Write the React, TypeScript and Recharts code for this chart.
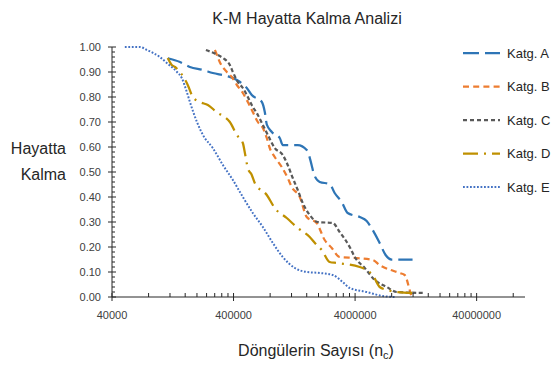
import React from 'react';
import { LineChart, Line, XAxis, YAxis } from 'recharts';

// Kaplan-Meier curves: [cycles, survival]
const katgA: [number, number][] = [
  [115000, 0.955], [145000, 0.94], [175000, 0.92], [224000, 0.908], [270000, 0.896],
  [352000, 0.884], [426000, 0.868], [514000, 0.836], [565000, 0.808], [684000, 0.78],
  [723000, 0.74], [751000, 0.69], [826000, 0.66], [960000, 0.636], [1017000, 0.608],
  [1350000, 0.608], [1600000, 0.588], [1780000, 0.516], [1820000, 0.496], [2047000, 0.46],
  [2472000, 0.452], [2717000, 0.416], [3104000, 0.38], [3476000, 0.336], [4365000, 0.32],
  [4980000, 0.304], [5584000, 0.268], [6371000, 0.216], [7133000, 0.168], [8000000, 0.15],
  [11880000, 0.15],
];
const katgB: [number, number][] = [
  [281000, 0.988], [292000, 0.968], [308000, 0.94], [352000, 0.9], [387000, 0.88],
  [426000, 0.848], [477000, 0.816], [524000, 0.78], [576000, 0.74], [634000, 0.7],
  [697000, 0.676], [751000, 0.636], [794000, 0.596], [873000, 0.56], [997000, 0.52],
  [1116000, 0.476], [1204000, 0.44], [1403000, 0.4], [1600000, 0.32], [1932000, 0.296],
  [2249000, 0.228], [2571000, 0.196], [2986000, 0.16], [4120000, 0.156], [5584000, 0.148],
  [6371000, 0.128], [9290000, 0.096], [10230000, 0.088], [11250000, 0.028], [11670000, 0],
];
const katgC: [number, number][] = [
  [237000, 0.988], [297000, 0.968], [327000, 0.956], [373000, 0.928], [395000, 0.9],
  [434000, 0.86], [477000, 0.836], [524000, 0.8], [565000, 0.768], [634000, 0.728],
  [697000, 0.688], [766000, 0.648], [873000, 0.596], [1017000, 0.568], [1116000, 0.528],
  [1228000, 0.476], [1350000, 0.428], [1484000, 0.376], [1694000, 0.328], [1972000, 0.3],
  [2618000, 0.296], [2986000, 0.26], [3612000, 0.2], [3972000, 0.16], [4800000, 0.116],
  [5800000, 0.068], [7280000, 0.04], [8790000, 0.02], [14930000, 0.016],
];
const katgD: [number, number][] = [
  [115000, 0.956], [124000, 0.928], [132000, 0.92], [168000, 0.848], [185000, 0.8],
  [211000, 0.78], [246000, 0.768], [297000, 0.736], [339000, 0.72], [373000, 0.7],
  [426000, 0.648], [477000, 0.616], [496000, 0.576], [524000, 0.516], [565000, 0.488],
  [598000, 0.456], [751000, 0.408], [873000, 0.356], [1096000, 0.316], [1350000, 0.276],
  [1694000, 0.24], [1932000, 0.208], [2128000, 0.188], [2472000, 0.14], [2825000, 0.136],
  [4365000, 0.12], [4980000, 0.108], [5584000, 0.088], [6371000, 0.04], [7410000, 0.028],
  [8790000, 0.02], [12360000, 0.016],
];
const katgE: [number, number][] = [
  [51000, 1.0], [68000, 1.0], [77600, 0.988], [99000, 0.96], [113000, 0.936],
  [137000, 0.9], [150000, 0.876], [165000, 0.82], [175000, 0.78], [200000, 0.7],
  [224000, 0.648], [270000, 0.596], [327000, 0.528], [395000, 0.468], [477000, 0.4],
  [576000, 0.336], [697000, 0.28], [842000, 0.216], [1017000, 0.16], [1277000, 0.116],
  [1600000, 0.1], [2047000, 0.096], [2618000, 0.088], [3164000, 0.06], [3612000, 0.036],
  [4980000, 0.02], [6745000, 0.004], [8460000, 0],
];

const seriesNames = ['Katg. A', 'Katg. B', 'Katg. C', 'Katg. D', 'Katg. E'];
const xMajorTicks = [40000, 400000, 4000000, 40000000];
const yMajorTicks = [0, 0.1, 0.2, 0.3, 0.4, 0.5, 0.6, 0.7, 0.8, 0.9, 1.0];

// minor ticks: 2..9 times each decade start, inside the axis range
const xTicks: number[] = [];
xMajorTicks.forEach((t) => {
  for (let m = 1; m <= 9; m++) {
    if (t * m <= 100000000) xTicks.push(t * m);
  }
});
const yTicks: number[] = [];
for (let i = 0; i <= 50; i++) yTicks.push(i / 50);

const series = [
  { name: seriesNames[0], points: katgA, color: '#2E75B6', dash: '15 6', legendDash: '16 6', width: 2.25 },
  { name: seriesNames[1], points: katgB, color: '#ED7D31', dash: '6 4', legendDash: '6 4.2', width: 2.25 },
  { name: seriesNames[2], points: katgC, color: '#595959', dash: '4 2.5', legendDash: '4 3', width: 2.25 },
  { name: seriesNames[3], points: katgD, color: '#BF9000', dash: '15 6 2 6', legendDash: '15 6 2 6', width: 2.25 },
  { name: seriesNames[4], points: katgE, color: '#4472C4', dash: '1.8 1.7', legendDash: '1.8 1.7', width: 2 },
];

const FONT = '"Liberation Sans", Arial, sans-serif';
const AXIS = '#262626';

const XTick = (props: any) => {
  const { x, y, payload } = props;
  const v = payload.value;
  const major = xMajorTicks.includes(v);
  return (
    <g>
      {major ? (
        <line x1={x} x2={x} y1={y - 4} y2={y + 4} stroke={AXIS} strokeWidth={1} />
      ) : (
        <line x1={x} x2={x} y1={y - 4} y2={y} stroke={AXIS} strokeWidth={1} />
      )}
      {major && (
        <text x={x} y={y + 22} textAnchor="middle" fontSize={11} fontFamily={FONT} fill="#404040">
          {v}
        </text>
      )}
    </g>
  );
};

const YTick = (props: any) => {
  const { x, y, payload } = props;
  const v = payload.value;
  const major = yMajorTicks.some((t) => Math.abs(t - v) < 1e-6);
  return (
    <g>
      {major ? (
        <line x1={x - 4} x2={x + 4} y1={y} y2={y} stroke={AXIS} strokeWidth={1} />
      ) : (
        <line x1={x} x2={x + 3} y1={y} y2={y} stroke={AXIS} strokeWidth={1} />
      )}
      {major && (
        <text x={x - 11} y={y + 4} textAnchor="end" fontSize={11} fontFamily={FONT} fill="#404040">
          {v.toFixed(2)}
        </text>
      )}
    </g>
  );
};

export default function App() {
  return (
    <div style={{ position: 'absolute', left: 0, top: 0, width: 553, height: 365, background: '#fff' }}>
      <LineChart width={553} height={365} margin={{ top: 47, right: 28, bottom: 38, left: 0 }}>
        <XAxis
          type="number"
          dataKey="x"
          scale="log"
          domain={[40000, 100000000]}
          ticks={xTicks}
          interval={0}
          tick={XTick}
          tickLine={false}
          tickSize={0}
          tickMargin={0}
          height={30}
          axisLine={{ stroke: AXIS }}
          allowDataOverflow
        />
        <YAxis
          type="number"
          dataKey="y"
          domain={[0, 1]}
          ticks={yTicks}
          interval={0}
          tick={YTick}
          tickLine={false}
          tickSize={0}
          tickMargin={0}
          width={112}
          axisLine={{ stroke: AXIS }}
        />
        {series.map((s) => (
          <Line
            key={s.name}
            name={s.name}
            data={s.points.map(([x, y]) => ({ x, y }))}
            dataKey="y"
            type="monotone"
            stroke={s.color}
            strokeWidth={s.width}
            strokeDasharray={s.dash}
            dot={false}
            activeDot={false}
            isAnimationActive={false}
          />
        ))}
      </LineChart>
      <svg
        width={553}
        height={365}
        style={{ position: 'absolute', left: 0, top: 0, pointerEvents: 'none' }}
      >
        <text x={307} y={24} textAnchor="middle" fontSize={16} fontFamily={FONT} fill="#262626">
          K-M Hayatta Kalma Analizi
        </text>
        <text x={316} y={356} textAnchor="middle" fontSize={16} fontFamily={FONT} fill="#262626">
          Döngülerin Sayısı (n<tspan fontSize={11} dy={3}>c</tspan>
          <tspan dy={-3}>)</tspan>
        </text>
        <text x={66} y={154} textAnchor="end" fontSize={16} fontFamily={FONT} fill="#262626">
          Hayatta
        </text>
        <text x={66} y={180} textAnchor="end" fontSize={16} fontFamily={FONT} fill="#262626">
          Kalma
        </text>
        {series.map((s, i) => {
          const cy = 53 + i * 33.5;
          return (
            <g key={s.name}>
              <line
                x1={463}
                x2={500}
                y1={cy}
                y2={cy}
                stroke={s.color}
                strokeWidth={s.width}
                strokeDasharray={s.legendDash}
              />
              <text x={507} y={cy + 4.5} fontSize={13} fontFamily={FONT} fill="#262626">
                {s.name}
              </text>
            </g>
          );
        })}
      </svg>
    </div>
  );
}
